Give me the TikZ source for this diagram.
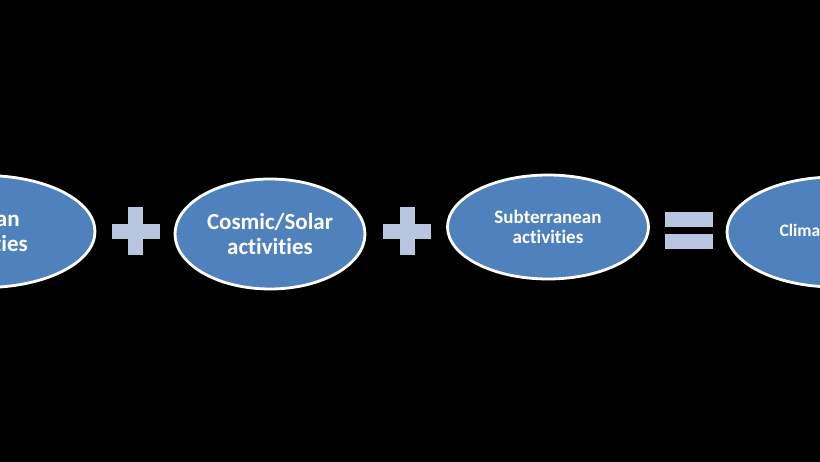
\documentclass[tikz,border=0pt]{standalone}
\usepackage{fontspec}
\setmainfont{Carlito}[Ligatures=NoCommon]
\usetikzlibrary{shapes.geometric}
\definecolor{ellfill}{RGB}{79,129,189}
\definecolor{opfill}{RGB}{185,198,224}
\tikzset{
  ell/.style={ellipse, fill=ellfill, draw=white, line width=2.8pt, inner sep=0pt,
    text=white, align=center, font=\bfseries},
  bigtxt/.style={font=\bfseries\fontsize{23}{25}\selectfont},
  smalltxt/.style={font=\bfseries\fontsize{19}{20.5}\selectfont},
  climtxt/.style={font=\bfseries\fontsize{17.5}{19}\selectfont},
  opshape/.style={fill=opfill}
}
\begin{document}
\begin{tikzpicture}[x=1pt,y=-1pt]
\useasboundingbox (0,0) rectangle (820,462);
\fill[black] (0,0) rectangle (820,462);
\clip (0,0) rectangle (820,462);
% ellipses
\node[ell, bigtxt, minimum width=220pt, minimum height=112pt] (human) at (-15,231.5) {Human\\activities};
\node[ell, bigtxt, minimum width=190pt, minimum height=110pt] (cosmic) at (270,234) {Cosmic/Solar\\activities};
\node[ell, smalltxt, minimum width=201pt, minimum height=104pt] (sub) at (548,227) {Subterranean\\activities};
\node[ell, climtxt, minimum width=216pt, minimum height=110pt] (climate) at (835,232) {Climate change};
% plus signs
\coordinate (plusA) at (135.5,231.5);
\coordinate (plusB) at (407,231.5);
\foreach \p in {plusA,plusB}{
  \fill[opshape] ([xshift=-24pt,yshift=7.5pt]\p) rectangle ([xshift=24pt,yshift=-7.5pt]\p);
  \fill[opshape] ([xshift=-7.5pt,yshift=24pt]\p) rectangle ([xshift=7.5pt,yshift=-24pt]\p);
}
% equals sign
\coordinate (eq) at (689,230.5);
\fill[opshape] ([xshift=-24pt,yshift=-18.5pt]eq) rectangle ([xshift=24pt,yshift=-3.5pt]eq);
\fill[opshape] ([xshift=-24pt,yshift=3.5pt]eq) rectangle ([xshift=24pt,yshift=18.5pt]eq);
\end{tikzpicture}
\end{document}
